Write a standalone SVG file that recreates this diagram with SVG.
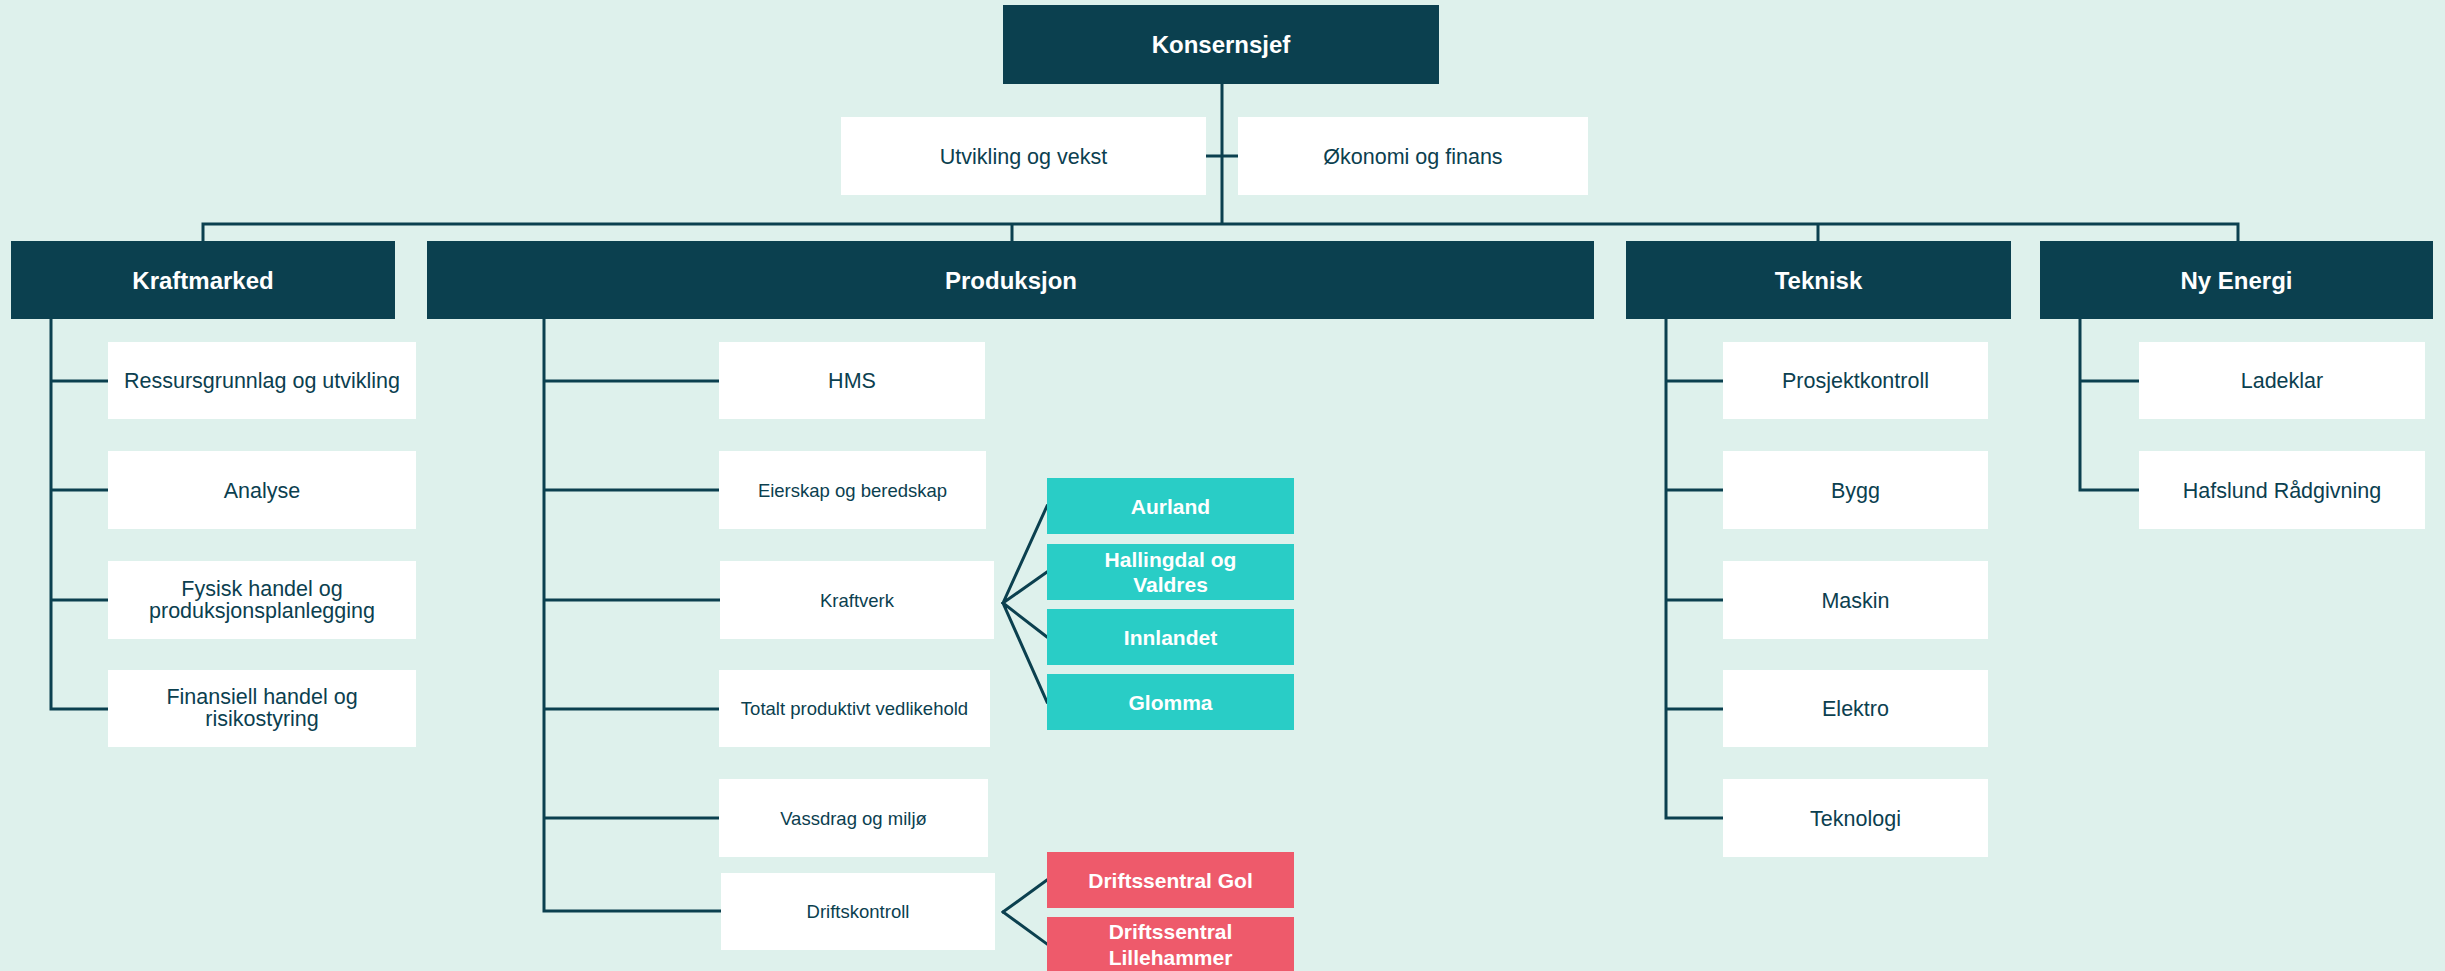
<svg xmlns="http://www.w3.org/2000/svg" width="2445" height="971" viewBox="0 0 2445 971">
<style>
.bg{fill:#DEF1EC}
.dk{fill:#0B404F}
.wt{fill:#FFFFFF}
.tl{fill:#29CDC6}
.rd{fill:#EE5A6B}
.conn{stroke:#0B404F;stroke-width:3;fill:none;stroke-linecap:square}
text{font-family:"Liberation Sans",Arial,sans-serif;text-anchor:middle}
.th{font-size:24px;font-weight:bold;fill:#FFFFFF}
.tc{font-size:21px;font-weight:bold;fill:#FFFFFF}
.tn{font-size:21.5px;fill:#0B404F}
.ts{font-size:18.5px;fill:#0B404F}
</style>
<rect class="bg" x="0" y="0" width="2445" height="971"/>
<g id="connectors">
<path class="conn" d="M1222 84V224M1206 156H1238M203 224H2238M203 224V241M1012 224V241M1818 224V241M2238 224V241"/>
<path class="conn" d="M51 319V709M51 381H108M51 490H108M51 600H108M51 709H108"/>
<path class="conn" d="M544 319V911M544 381H719M544 490H719M544 600H720M544 709H719M544 818H719M544 911H721"/>
<path class="conn" d="M1003 603L1047 506M1003 603L1047 572M1003 603L1047 637M1003 603L1047 702"/>
<path class="conn" d="M1003 912L1047 880M1003 912L1047 944"/>
<path class="conn" d="M1666 319V818M1666 381H1723M1666 490H1723M1666 600H1723M1666 709H1723M1666 818H1723"/>
<path class="conn" d="M2080 319V490M2080 381H2139M2080 490H2139"/>
</g>
<g id="konsernsjef"><rect class="dk" x="1003" y="5" width="436" height="79"/><text class="th" x="1221" y="53">Konsernsjef</text></g>
<g id="utvikling"><rect class="wt" x="841" y="117" width="365" height="78"/><text class="tn" x="1023.5" y="163.5">Utvikling og vekst</text></g>
<g id="okonomi"><rect class="wt" x="1238" y="117" width="350" height="78"/><text class="tn" x="1413" y="163.5">Økonomi og finans</text></g>
<g id="kraftmarked"><rect class="dk" x="11" y="241" width="384" height="78"/><text class="th" x="203" y="288.5">Kraftmarked</text></g>
<g id="produksjon"><rect class="dk" x="427" y="241" width="1167" height="78"/><text class="th" x="1011" y="288.5">Produksjon</text></g>
<g id="teknisk"><rect class="dk" x="1626" y="241" width="385" height="78"/><text class="th" x="1818.5" y="288.5">Teknisk</text></g>
<g id="nyenergi"><rect class="dk" x="2040" y="241" width="393" height="78"/><text class="th" x="2236.5" y="288.5">Ny Energi</text></g>
<g id="ressurs"><rect class="wt" x="108" y="342" width="308" height="77"/><text class="tn" x="262" y="388">Ressursgrunnlag og utvikling</text></g>
<g id="analyse"><rect class="wt" x="108" y="451" width="308" height="78"/><text class="tn" x="262" y="497.5">Analyse</text></g>
<g id="fysisk"><rect class="wt" x="108" y="561" width="308" height="78"/><text class="tn" x="262" y="596">Fysisk handel og</text><text class="tn" x="262" y="618">produksjonsplanlegging</text></g>
<g id="finansiell"><rect class="wt" x="108" y="670" width="308" height="77"/><text class="tn" x="262" y="704">Finansiell handel og</text><text class="tn" x="262" y="726">risikostyring</text></g>
<g id="hms"><rect class="wt" x="719" y="342" width="266" height="77"/><text class="tn" x="852" y="388">HMS</text></g>
<g id="eierskap"><rect class="wt" x="719" y="451" width="267" height="78"/><text class="ts" x="852.5" y="496.5">Eierskap og beredskap</text></g>
<g id="kraftverk"><rect class="wt" x="720" y="561" width="274" height="78"/><text class="ts" x="857" y="606.5">Kraftverk</text></g>
<g id="totalt"><rect class="wt" x="719" y="670" width="271" height="77"/><text class="ts" x="854.5" y="715">Totalt produktivt vedlikehold</text></g>
<g id="vassdrag"><rect class="wt" x="719" y="779" width="269" height="78"/><text class="ts" x="853.5" y="824.5">Vassdrag og miljø</text></g>
<g id="driftskontroll"><rect class="wt" x="721" y="873" width="274" height="77"/><text class="ts" x="858" y="918">Driftskontroll</text></g>
<g id="aurland"><rect class="tl" x="1047" y="478" width="247" height="56"/><text class="tc" x="1170.5" y="513.5">Aurland</text></g>
<g id="hallingdal"><rect class="tl" x="1047" y="544" width="247" height="56"/><text class="tc" x="1170.5" y="567">Hallingdal og</text><text class="tc" x="1170.5" y="592">Valdres</text></g>
<g id="innlandet"><rect class="tl" x="1047" y="609" width="247" height="56"/><text class="tc" x="1170.5" y="644.5">Innlandet</text></g>
<g id="glomma"><rect class="tl" x="1047" y="674" width="247" height="56"/><text class="tc" x="1170.5" y="709.5">Glomma</text></g>
<g id="gol"><rect class="rd" x="1047" y="852" width="247" height="56"/><text class="tc" x="1170.5" y="887.5">Driftssentral Gol</text></g>
<g id="lillehammer"><rect class="rd" x="1047" y="917" width="247" height="56"/><text class="tc" x="1170.5" y="939">Driftssentral</text><text class="tc" x="1170.5" y="965">Lillehammer</text></g>
<g id="prosjektkontroll"><rect class="wt" x="1723" y="342" width="265" height="77"/><text class="tn" x="1855.5" y="388">Prosjektkontroll</text></g>
<g id="bygg"><rect class="wt" x="1723" y="451" width="265" height="78"/><text class="tn" x="1855.5" y="497.5">Bygg</text></g>
<g id="maskin"><rect class="wt" x="1723" y="561" width="265" height="78"/><text class="tn" x="1855.5" y="607.5">Maskin</text></g>
<g id="elektro"><rect class="wt" x="1723" y="670" width="265" height="77"/><text class="tn" x="1855.5" y="716">Elektro</text></g>
<g id="teknologi"><rect class="wt" x="1723" y="779" width="265" height="78"/><text class="tn" x="1855.5" y="825.5">Teknologi</text></g>
<g id="ladeklar"><rect class="wt" x="2139" y="342" width="286" height="77"/><text class="tn" x="2282" y="388">Ladeklar</text></g>
<g id="hafslund"><rect class="wt" x="2139" y="451" width="286" height="78"/><text class="tn" x="2282" y="497.5">Hafslund Rådgivning</text></g>
</svg>
